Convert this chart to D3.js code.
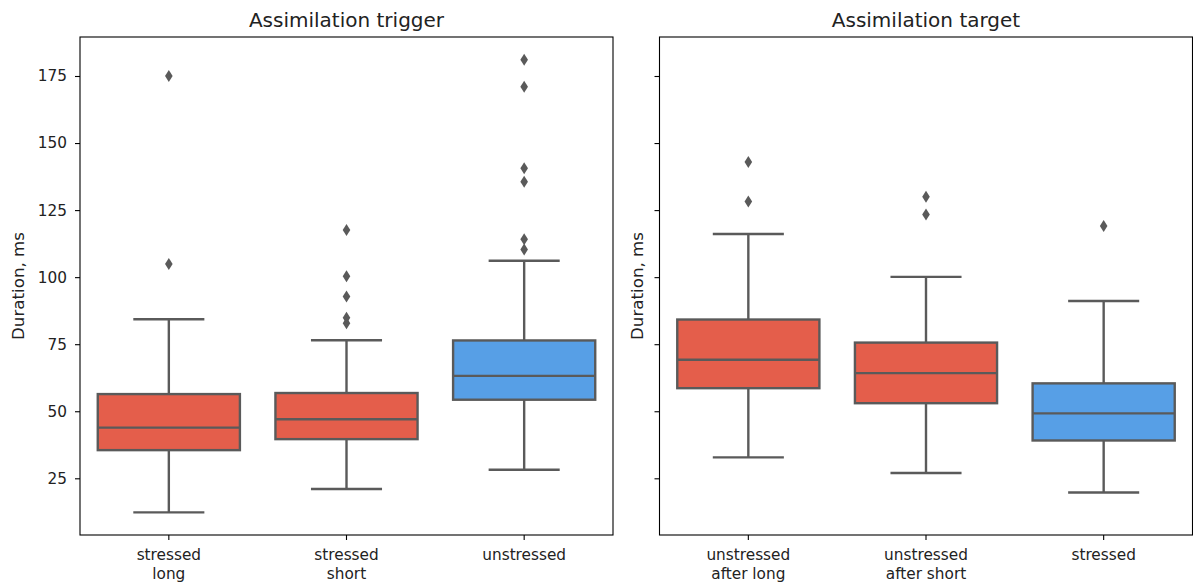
<!DOCTYPE html>
<html>
<head>
<meta charset="utf-8">
<script src="https://cdn.jsdelivr.net/npm/d3@7"></script>
<style>
  body { margin: 0; background: #fff; }
  svg { display: block; font-family: "DejaVu Sans", sans-serif; }
</style>
</head>
<body>
<svg id="chart" width="1193" height="585"></svg>
<script>
// ---- data (ms) ----
var triggerCats = ["stressed\nlong", "stressed\nshort", "unstressed"];
var triggerLow  = [12.3, 21.0, 28.2];
var triggerQ1   = [35.5, 39.6, 54.3];
var triggerMed  = [43.9, 47.0, 63.2];
var triggerQ3   = [56.4, 56.8, 76.4];
var triggerHigh = [84.3, 76.5, 106.1];
var triggerOut  = [[104.9, 175.0],
                   [82.8, 84.9, 92.8, 100.3, 117.6],
                   [110.3, 114.1, 135.6, 140.6, 171.0, 181.1]];

var targetCats = ["unstressed\nafter long", "unstressed\nafter short", "stressed"];
var targetLow  = [32.8, 27.0, 19.7];
var targetQ1   = [58.6, 53.0, 39.1];
var targetMed  = [69.2, 64.2, 49.2];
var targetQ3   = [84.2, 75.6, 60.4];
var targetHigh = [116.1, 100.1, 91.1];
var targetOut  = [[128.2, 142.9], [123.4, 130.0], [119.1]];

var yTicks = [25, 50, 75, 100, 125, 150, 175];
var boxColors = ["#E45E4B", "#E45E4B", "#579FE6"];

var gray = "#5a5a5a",
    lw = 2.4,
    plotTop = 37, plotBottom = 535,
    panelW = 533;

var svg = d3.select("#chart");

// shared y, matplotlib-ish 5% margin
var allVals = [].concat(triggerLow, triggerHigh, targetLow, targetHigh,
                        d3.merge(triggerOut), d3.merge(targetOut));
var ext = d3.extent(allVals), pad = (ext[1] - ext[0]) * 0.05;
var y = d3.scaleLinear().domain([ext[0] - pad, ext[1] + pad]).range([plotBottom, plotTop]);

function panel(left, title, cats, low, q1, med, q3, high, out, showLabels, labelX) {
  var g = svg.append("g").attr("transform", "translate(" + left + ",0)");
  var x = d3.scaleBand().domain(cats).range([0, panelW]).paddingInner(0).paddingOuter(0);
  var bw = x.bandwidth() * 0.8;

  cats.forEach(function(c, i) {
    var cx = x(c) + x.bandwidth() / 2;
    var b = g.append("g");
    // whiskers + caps
    b.append("line").attr("x1", cx).attr("x2", cx).attr("y1", y(q3[i])).attr("y2", y(high[i]))
      .attr("stroke", gray).attr("stroke-width", lw);
    b.append("line").attr("x1", cx).attr("x2", cx).attr("y1", y(q1[i])).attr("y2", y(low[i]))
      .attr("stroke", gray).attr("stroke-width", lw);
    b.append("line").attr("x1", cx - bw / 4).attr("x2", cx + bw / 4).attr("y1", y(high[i])).attr("y2", y(high[i]))
      .attr("stroke", gray).attr("stroke-width", lw);
    b.append("line").attr("x1", cx - bw / 4).attr("x2", cx + bw / 4).attr("y1", y(low[i])).attr("y2", y(low[i]))
      .attr("stroke", gray).attr("stroke-width", lw);
    // box
    b.append("rect").attr("x", cx - bw / 2).attr("width", bw)
      .attr("y", y(q3[i])).attr("height", y(q1[i]) - y(q3[i]))
      .attr("fill", boxColors[i]).attr("stroke", gray).attr("stroke-width", lw);
    b.append("line").attr("x1", cx - bw / 2).attr("x2", cx + bw / 2).attr("y1", y(med[i])).attr("y2", y(med[i]))
      .attr("stroke", gray).attr("stroke-width", lw);
    // fliers (thin diamonds)
    b.selectAll("path.flier").data(out[i]).enter().append("path")
      .attr("class", "flier")
      .attr("d", function(v) {
        var py = y(v);
        return "M" + cx + "," + (py - 6) + "L" + (cx + 3.8) + "," + py +
               "L" + cx + "," + (py + 6) + "L" + (cx - 3.8) + "," + py + "Z";
      })
      .attr("fill", gray);
  });

  // frame
  g.append("rect").attr("x", 0).attr("y", plotTop).attr("width", panelW).attr("height", plotBottom - plotTop)
    .attr("fill", "none").attr("stroke", "#000").attr("stroke-width", 1.1);

  // y axis
  var ya = g.append("g").call(d3.axisLeft(y).tickValues(yTicks).tickSize(5).tickPadding(8));
  ya.select(".domain").remove();
  ya.selectAll(".tick line").attr("stroke", "#000").attr("stroke-width", 1.1);
  ya.selectAll(".tick text").attr("font-size", "15.3px").attr("fill", "#222")
    .attr("font-family", "DejaVu Sans").style("display", showLabels ? null : "none");

  // x axis
  var xa = g.append("g").attr("transform", "translate(0," + plotBottom + ")")
    .call(d3.axisBottom(x).tickSize(5).tickFormat(""));
  xa.select(".domain").remove();
  xa.selectAll(".tick line").attr("stroke", "#000").attr("stroke-width", 1.1);
  cats.forEach(function(c) {
    var t = g.append("text").attr("text-anchor", "middle").attr("font-size", "15.3px").attr("fill", "#222")
      .attr("x", x(c) + x.bandwidth() / 2).attr("y", 560);
    c.split("\n").forEach(function(line, k) {
      t.append("tspan").attr("x", x(c) + x.bandwidth() / 2).attr("dy", k === 0 ? 0 : 18.5).text(line);
    });
  });

  // title and y label
  g.append("text").attr("x", panelW / 2).attr("y", 27).attr("text-anchor", "middle")
    .attr("font-size", "20px").attr("fill", "#222").text(title);
  g.append("text").attr("transform", "translate(" + labelX + "," + ((plotTop + plotBottom) / 2) + ") rotate(-90)")
    .attr("text-anchor", "middle").attr("font-size", "16.7px").attr("fill", "#222").text("Duration, ms");
}

panel(80, "Assimilation trigger", triggerCats, triggerLow, triggerQ1, triggerMed, triggerQ3, triggerHigh, triggerOut, true, -56);
panel(659.5, "Assimilation target", targetCats, targetLow, targetQ1, targetMed, targetQ3, targetHigh, targetOut, false, -17);
</script>
</body>
</html>
